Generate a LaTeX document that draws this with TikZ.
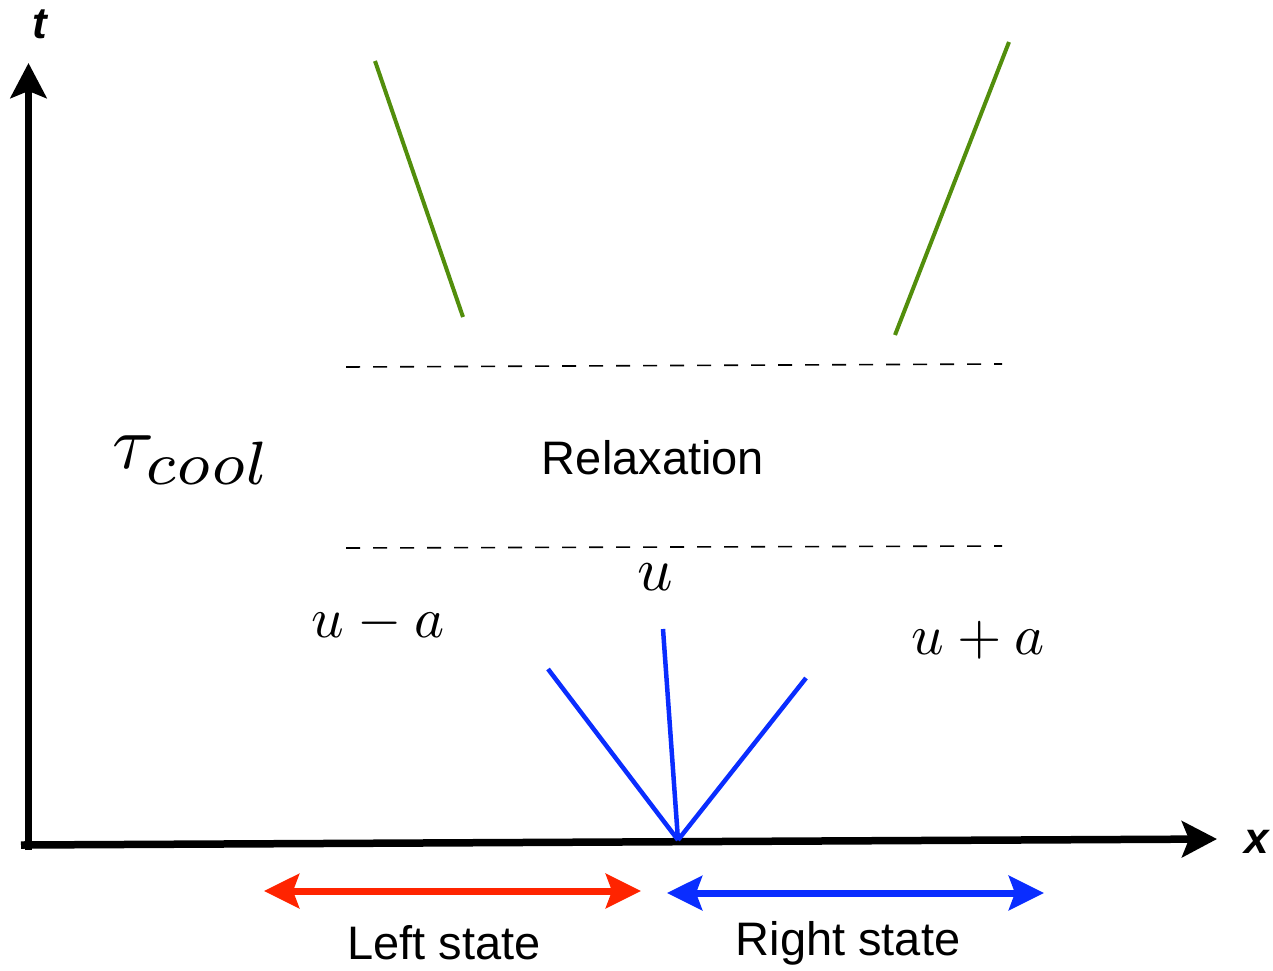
\documentclass[tikz,border=0pt]{standalone}
\usepackage{fontspec}
\setmainfont{Liberation Sans}
\usetikzlibrary{arrows.meta}
\definecolor{fangreen}{RGB}{82,142,12}
\definecolor{fanblue}{RGB}{10,45,255}
\definecolor{statered}{RGB}{255,36,0}
\tikzset{
  axisline/.style={line width=7.5pt, -{Stealth[length=35pt,width=36pt,inset=7pt]}},
  greenline/.style={fangreen, line width=4pt},
  fanline/.style={fanblue, line width=4.5pt},
  dashline/.style={line width=1.6pt, dash pattern=on 14pt off 13pt},
  statearrow/.style={line width=7pt, {Stealth[length=35pt,width=34pt,inset=6pt]}-{Stealth[length=35pt,width=34pt,inset=6pt]}},
  sanslabel/.style={font=\fontsize{47}{50}\selectfont, inner sep=0pt},
  axislabel/.style={font=\fontsize{44}{46}\selectfont\bfseries\itshape, inner sep=0pt},
  mathlabel/.style={font=\normalsize, inner sep=0pt}
}
\begin{document}
\begin{tikzpicture}[x=1pt,y=-1pt]
\useasboundingbox (0,0) rectangle (1273,970);
% axes
\coordinate (corner) at (28.5,850);
\coordinate (ttip) at (28.5,63);
\coordinate (xstart) at (21,845);
\coordinate (xtip) at (1217,839);
\draw[axisline] (corner) -- (ttip);
\draw[axisline] (xstart) -- (xtip);
\node[axislabel] (tlab) at (40,24) {t};
\node[axislabel] (xlab) at (1257,842) {x};
% green lines
\coordinate (gl1) at (375,61);
\coordinate (gl2) at (463,317);
\coordinate (gr1) at (1009,42);
\coordinate (gr2) at (895,335);
\draw[greenline] (gl1) -- (gl2);
\draw[greenline] (gr1) -- (gr2);
% dashed lines
\coordinate (d1a) at (346,367);
\coordinate (d1b) at (1002,364);
\coordinate (d2a) at (346,548);
\coordinate (d2b) at (1002,546);
\draw[dashline] (d1a) -- (d1b);
\draw[dashline] (d2a) -- (d2b);
\node[sanslabel] (relax) at (653,458) {Relaxation};
% tau cool
\node[mathlabel] (tau) at (192,460) {\scalebox{7.6}{$\tau_{\scalebox{1.15}{$\scriptstyle cool$}}$}};
% fan
\coordinate (origin) at (678,840);
\coordinate (fl) at (548,669);
\coordinate (fm) at (663,629);
\coordinate (fr) at (806,678);
\draw[fanline] (origin) -- (fl);
\draw[fanline] (origin) -- (fm);
\draw[fanline] (origin) -- (fr);
\node[mathlabel] (lu) at (655,577) {\scalebox{6.2}{$u$}};
\node[mathlabel] (lum) at (378,623) {\scalebox{5.7}{$u-a$}};
\node[mathlabel] (lup) at (978,640) {\scalebox{5.7}{$u+a$}};
% states
\coordinate (ra) at (264,891);
\coordinate (rb) at (641,891);
\coordinate (ba) at (667,893);
\coordinate (bb) at (1044,893);
\draw[statearrow, statered] (ra) -- (rb);
\draw[statearrow, fanblue] (ba) -- (bb);
\node[sanslabel] (lstate) at (444,943) {Left state};
\node[sanslabel] (rstate) at (848,943) {Right state};
\end{tikzpicture}
\end{document}
